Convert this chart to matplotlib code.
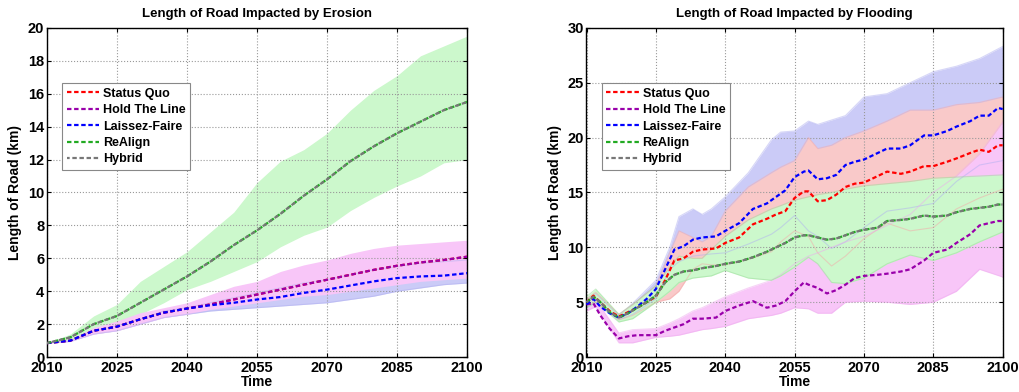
import matplotlib.pyplot as plt
import numpy as np

plt.rcParams['font.family'] = ['Liberation Sans', 'DejaVu Sans']
plt.rcParams['font.weight'] = 'bold'

# ---------------- erosion data ----------------
ero_years = [2010, 2015, 2020, 2025, 2030, 2035, 2040, 2045, 2050, 2055, 2060,
             2065, 2070, 2075, 2080, 2085, 2090, 2095, 2100]
ero_sq = [0.85, 1.0, 1.6, 1.85, 2.3, 2.7, 2.95, 3.2, 3.5, 3.8, 4.1, 4.4, 4.7,
          5.0, 5.3, 5.55, 5.75, 5.9, 6.1]
ero_htl = [0.85, 1.0, 1.6, 1.85, 2.3, 2.7, 2.95, 3.2, 3.5, 3.8, 4.1, 4.4, 4.7,
           5.0, 5.3, 5.55, 5.75, 5.9, 6.1]
ero_lf = [0.85, 1.0, 1.6, 1.85, 2.3, 2.7, 2.95, 3.15, 3.3, 3.5, 3.65, 3.9, 4.1,
          4.35, 4.6, 4.8, 4.9, 4.95, 5.1]
ero_ra = [0.85, 1.2, 2.0, 2.5, 3.3, 4.1, 4.9, 5.8, 6.8, 7.7, 8.7, 9.8, 10.8,
          11.9, 12.8, 13.6, 14.3, 15.0, 15.5]
ero_hy = [0.85, 1.2, 2.0, 2.5, 3.3, 4.1, 4.9, 5.8, 6.8, 7.7, 8.7, 9.8, 10.8,
          11.9, 12.8, 13.6, 14.3, 15.0, 15.5]
ero_ra_hi = [0.85, 1.4, 2.5, 3.2, 4.6, 5.5, 6.4, 7.6, 8.8, 10.6, 11.9, 12.6,
             13.6, 15.0, 16.2, 17.1, 18.3, 18.9, 19.5]
ero_ra_lo = [0.85, 1.05, 1.6, 2.0, 2.6, 3.3, 4.1, 4.6, 5.2, 5.8, 6.7, 7.4, 7.9,
             8.9, 9.7, 10.4, 11.0, 11.8, 12.0]
ero_htl_hi = [0.85, 1.05, 1.8, 2.2, 2.7, 3.0, 3.3, 3.8, 4.3, 4.6, 5.2, 5.6, 5.9,
              6.3, 6.6, 6.8, 6.9, 7.0, 7.1]
ero_htl_lo = [0.85, 0.95, 1.4, 1.6, 2.0, 2.4, 2.6, 2.9, 3.1, 3.3, 3.5, 3.7, 3.8,
              4.0, 4.2, 4.4, 4.6, 4.7, 4.8]
ero_lf_hi = [0.85, 1.0, 1.6, 1.9, 2.3, 2.8, 3.0, 3.3, 3.6, 3.9, 4.2, 4.5, 4.7,
             5.0, 5.3, 5.5, 5.7, 5.8, 5.9]
ero_lf_lo = [0.85, 0.95, 1.4, 1.6, 2.0, 2.4, 2.6, 2.8, 2.9, 3.0, 3.1, 3.2, 3.3,
             3.5, 3.7, 4.0, 4.2, 4.4, 4.5]

# ---------------- flooding data ----------------
fl_years = [2010, 2011.5, 2013, 2015, 2017, 2019, 2021, 2023, 2025, 2027, 2029,
            2031, 2033, 2035, 2038, 2040, 2043, 2046, 2049, 2051, 2053, 2055,
            2057, 2058, 2060, 2062, 2064, 2066, 2068, 2070, 2073, 2075, 2078,
            2080, 2083, 2085, 2088, 2090, 2093, 2095, 2097, 2099, 2100]
fl_lf = [4.8, 5.3, 4.6, 4.0, 3.6, 4.0, 4.6, 5.3, 6.2, 8.0, 9.8, 10.1, 10.7,
         10.9, 11.0, 11.5, 12.2, 13.5, 14.0, 14.6, 15.2, 16.4, 16.9, 17.0, 16.2,
         16.3, 16.6, 17.5, 17.8, 18.0, 18.6, 19.0, 19.0, 19.3, 20.2, 20.2, 20.6,
         21.0, 21.5, 22.0, 22.0, 22.7, 22.6]
fl_sq = [5.0, 5.6, 5.0, 4.2, 3.7, 4.1, 4.5, 5.0, 5.5, 7.0, 8.8, 9.0, 9.6, 9.8,
         9.9, 10.4, 10.9, 12.1, 12.6, 13.0, 13.3, 14.5, 15.1, 15.1, 14.2, 14.3,
         14.8, 15.5, 15.8, 15.9, 16.5, 16.9, 16.7, 16.9, 17.4, 17.4, 17.8, 18.1,
         18.6, 18.9, 18.7, 19.3, 19.3]
fl_ra = [5.0, 5.5, 5.0, 4.1, 3.6, 4.0, 4.5, 5.0, 5.6, 6.8, 7.5, 7.8, 7.9, 8.1,
         8.3, 8.5, 8.7, 9.1, 9.6, 10.0, 10.4, 10.9, 11.1, 11.1, 10.9, 10.7, 10.8,
         11.1, 11.4, 11.6, 11.8, 12.4, 12.5, 12.6, 12.9, 12.8, 12.9, 13.2, 13.5,
         13.6, 13.7, 13.9, 13.9]
fl_hy = list(fl_ra)
fl_htl = [4.8, 4.9, 3.8, 2.6, 1.7, 1.9, 2.0, 2.0, 2.0, 2.4, 2.7, 3.0, 3.5, 3.5,
          3.6, 4.2, 4.7, 5.1, 4.5, 4.7, 5.1, 6.0, 6.8, 6.6, 6.3, 5.8, 6.1, 6.6,
          7.2, 7.4, 7.5, 7.6, 7.8, 8.0, 8.8, 9.5, 9.8, 10.4, 11.2, 12.0, 12.2,
          12.4, 12.4]

fb_years = [2010, 2012, 2017, 2020, 2025, 2028, 2030, 2033, 2035, 2037, 2040,
            2045, 2050, 2052, 2055, 2058, 2060, 2063, 2066, 2070, 2075, 2080,
            2085, 2090, 2095, 2100]
fl_lf_hi = [5.2, 5.8, 3.8, 4.9, 7.0, 10.0, 12.8, 13.5, 13.0, 13.5, 14.6, 16.8,
            19.8, 20.5, 20.6, 21.5, 21.2, 21.6, 22.0, 23.7, 24.0, 25.0, 26.0,
            26.5, 27.2, 28.3]
fl_lf_lo = [4.5, 5.0, 3.4, 3.9, 5.3, 8.0, 8.7, 9.2, 9.3, 9.4, 9.5, 10.3, 11.2,
            11.8, 12.9, 11.5, 11.0, 9.9, 10.5, 11.8, 13.3, 13.6, 14.0, 16.0,
            17.5, 17.9]
fl_sq_hi = [5.3, 5.9, 3.9, 4.8, 6.5, 9.5, 11.5, 10.9, 10.5, 11.0, 13.3, 15.5,
            16.8, 17.3, 17.9, 20.0, 19.0, 19.3, 20.0, 20.6, 21.5, 22.5, 22.5,
            23.0, 23.2, 23.7]
fl_sq_lo = [4.6, 5.1, 3.4, 3.8, 5.0, 5.3, 6.0, 8.0, 8.5, 8.4, 8.4, 8.9, 9.6,
            10.5, 11.5, 11.0, 9.5, 8.3, 9.2, 10.8, 12.2, 11.5, 11.8, 13.5, 14.5,
            15.3]
fl_ra_hi = [5.5, 6.2, 3.9, 4.8, 6.5, 8.2, 9.2, 9.0, 9.0, 9.8, 11.0, 12.5, 13.5,
            13.8, 14.3, 14.6, 14.8, 15.0, 15.3, 15.6, 15.8, 16.0, 16.3, 16.4,
            16.5, 16.6]
fl_ra_lo = [4.5, 5.0, 3.2, 3.5, 5.0, 6.0, 6.8, 7.2, 7.3, 7.4, 7.9, 7.2, 7.0,
            7.4, 8.2, 9.1, 8.5, 6.8, 6.7, 7.2, 8.5, 9.3, 8.8, 9.5, 10.5, 11.4]
fl_htl_hi = [5.0, 5.2, 2.2, 2.5, 2.6, 3.1, 3.5, 4.2, 4.5, 4.9, 5.5, 6.3, 7.0,
             7.5, 8.5, 9.2, 9.5, 10.0, 10.5, 11.0, 12.0, 13.0, 15.0, 16.5,
             18.5, 21.4]
fl_htl_lo = [4.2, 4.6, 1.3, 1.3, 1.8, 1.9, 2.0, 2.3, 2.5, 2.6, 2.8, 3.5, 3.8,
             4.0, 4.5, 4.4, 4.0, 4.0, 5.0, 5.1, 5.0, 4.8, 5.0, 6.0, 8.0, 7.3]

labels = ['Status Quo', 'Hold The Line', 'Laissez-Faire', 'ReAlign', 'Hybrid']
line_colors = ['#ff0000', '#9900aa', '#0000ff', '#22aa22', '#777777']
fill_colors = {'sq': '#f9c9c9', 'htl': '#f8c6f8', 'lf': '#cbcbf7', 'ra': '#ccf8cc'}
edge_colors = {'sq': '#f4a8a8', 'htl': '#eeaaee', 'lf': '#b0b0f0', 'ra': '#98dc98'}


def style_axes(ax, ymax, ystep):
    ax.set_xlim(2010, 2100)
    ax.set_ylim(0, ymax)
    ax.set_xticks(np.arange(2010, 2101, 15))
    ax.set_yticks(np.arange(0, ymax + 0.1, ystep))
    ax.grid(True, linestyle=':', color='#999999', linewidth=0.8)
    ax.tick_params(direction='in', top=True, right=True, labelsize=10.5,
                   length=3, width=0.8, pad=2)
    ax.tick_params(axis='x', pad=3)
    for lab in ax.get_xticklabels() + ax.get_yticklabels():
        lab.set_fontweight('bold')
    for sp in ax.spines.values():
        sp.set_linewidth(1.0)
    ax.set_xlabel('Time', fontsize=10, fontweight='bold', labelpad=0)
    ax.set_ylabel('Length of Road (km)', fontsize=10, fontweight='bold', labelpad=4)


def band(ax, x, lo, hi, key):
    ax.fill_between(x, lo, hi, color=fill_colors[key], linewidth=0, zorder=1)


def band_edges(ax, x, lo, hi, key):
    ax.plot(x, lo, color=edge_colors[key], linewidth=0.8, alpha=0.5, zorder=2)
    ax.plot(x, hi, color=edge_colors[key], linewidth=0.8, alpha=0.5, zorder=2)


def lines(ax, x, series):
    handles = []
    for i, (y, c) in enumerate(zip(series, line_colors)):
        if i == 4:
            ls = (0.8, (2.0, 1.2))
        else:
            ls = (0, (2.0, 1.2))
        h, = ax.plot(x, y, color=c, linewidth=1.6, linestyle=ls, zorder=4 + i,
                     label=labels[i])
        handles.append(h)
    leg = ax.legend(handles=handles, loc='upper left', bbox_to_anchor=(0.022, 0.85),
                    prop={'size': 9, 'weight': 'bold'}, fancybox=False,
                    edgecolor='#888888', framealpha=1, handlelength=2.6,
                    handletextpad=0.3, borderpad=0.35, labelspacing=0.35)
    leg.get_frame().set_linewidth(0.8)


fig = plt.figure(figsize=(10.2, 3.92), dpi=100)
ax1 = fig.add_axes([0.046, 0.089, 0.412, 0.840])
ax2 = fig.add_axes([0.575, 0.089, 0.408, 0.840])

# erosion
band(ax1, ero_years, ero_ra_lo, ero_ra_hi, 'ra')
band(ax1, ero_years, ero_lf_lo, ero_lf_hi, 'lf')
band(ax1, ero_years, ero_htl_lo, ero_htl_hi, 'htl')
band_edges(ax1, ero_years, ero_lf_lo, ero_lf_hi, 'lf')
lines(ax1, ero_years, [ero_sq, ero_htl, ero_lf, ero_ra, ero_hy])
style_axes(ax1, 20, 2)
ax1.set_title('Length of Road Impacted by Erosion', fontsize=9.5,
              fontweight='bold', pad=8)

# flooding
band(ax2, fb_years, fl_lf_lo, fl_lf_hi, 'lf')
band(ax2, fb_years, fl_sq_lo, fl_sq_hi, 'sq')
band(ax2, fb_years, fl_htl_lo, fl_htl_hi, 'htl')
band(ax2, fb_years, fl_ra_lo, fl_ra_hi, 'ra')
band_edges(ax2, fb_years, fl_lf_lo, fl_lf_hi, 'lf')
band_edges(ax2, fb_years, fl_sq_lo, fl_sq_hi, 'sq')
band_edges(ax2, fb_years, fl_htl_lo, fl_htl_hi, 'htl')
band_edges(ax2, fb_years, fl_ra_lo, fl_ra_hi, 'ra')
lines(ax2, fl_years, [fl_sq, fl_htl, fl_lf, fl_ra, fl_hy])
style_axes(ax2, 30, 5)
ax2.set_title('Length of Road Impacted by Flooding', fontsize=9.5,
              fontweight='bold', pad=8)

fig.savefig('out.png', dpi=100)
